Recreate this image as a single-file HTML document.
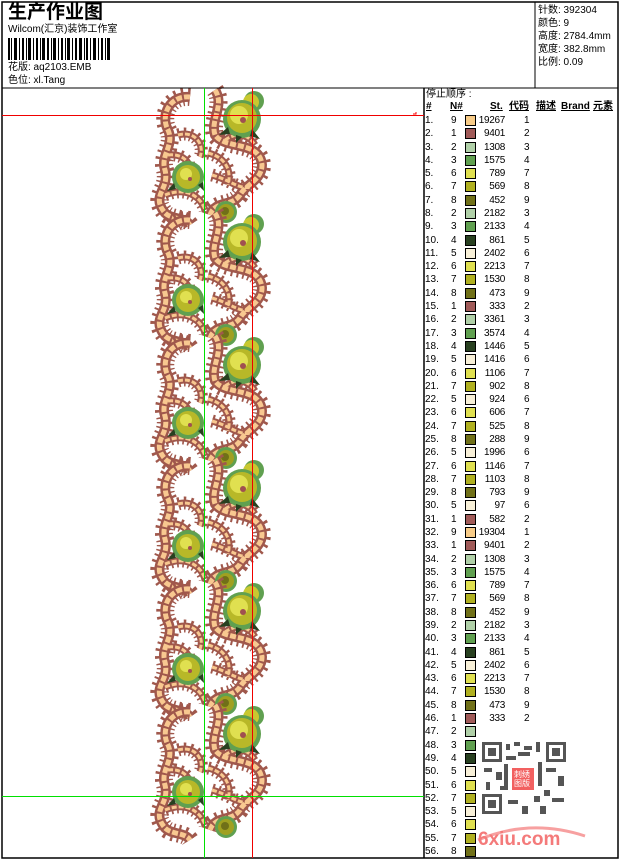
<!DOCTYPE html>
<html><head><meta charset="utf-8"><style>
body{margin:0;background:#fff;}
#p{position:relative;width:620px;height:860px;overflow:hidden;font-family:"Liberation Sans","WenQuanYi Zen Hei","Noto Sans CJK SC",sans-serif;color:#000;}
.t{position:absolute;white-space:nowrap;font-size:10px;line-height:12px;}
.r{position:absolute;left:425px;height:13px;font-size:10px;line-height:13px;width:190px;}
.r span{position:absolute;}
.r .a{left:0}.r .n{left:26px}.r .s{left:40px;width:9px;height:9px;top:1px;border:1px solid #000}
.r .st{left:50px;width:30px;text-align:right;letter-spacing:-0.3px}.r .c{left:99px}
</style></head><body><div id="p">
<svg width="620" height="860" style="position:absolute;left:0;top:0">
<defs>
<g id="sc" fill="none">
 <path id="p1" d="M190 2 C170 0 160 20 168 35 C175 50 160 60 165 75 C170 95 150 100 165 118 C172 125 185 122 190 130"/>
 <path id="p2" d="M215 -5 C225 10 210 25 215 40 C225 55 260 45 262 70 C262 85 245 90 240 100 C232 112 215 105 210 120"/>
 <path id="p3" d="M178 40 C195 35 205 50 200 62 M165 100 C185 92 200 100 205 115 M168 60 C185 58 192 70 190 80"/>
 <path id="p4" d="M208 58 C225 62 232 75 228 90 M212 80 C230 85 240 95 250 92 M225 45 C240 35 250 42 255 50"/>
</g>
<g id="tile">
 <g fill="none" stroke="#a0584c">
  <use href="#p1" stroke-width="18" stroke-dasharray="2 4"/><use href="#p2" stroke-width="18" stroke-dasharray="2 4"/>
  <use href="#p3" stroke-width="13" stroke-dasharray="2 4"/><use href="#p4" stroke-width="13" stroke-dasharray="2 4"/>
  <use href="#p1" stroke-width="10"/><use href="#p2" stroke-width="10"/>
  <use href="#p3" stroke-width="7"/><use href="#p4" stroke-width="7"/>
 </g>
 <g fill="none" stroke="#f8c890">
  <use href="#p1" stroke-width="5" stroke-dasharray="6 2"/><use href="#p2" stroke-width="5" stroke-dasharray="6 2"/>
  <use href="#p3" stroke-width="3" stroke-dasharray="5 2"/><use href="#p4" stroke-width="3" stroke-dasharray="5 2"/>
 </g>
 <circle cx="254" cy="6" r="10" fill="#60a050"/><circle cx="251" cy="7" r="8" fill="#c8c830"/>
 <circle cx="242" cy="24" r="19" fill="#60a050"/><circle cx="242" cy="23" r="15" fill="#b8b828"/><circle cx="239" cy="20" r="9" fill="#e0e050"/><circle cx="243" cy="25" r="3" fill="#a05050"/>
 <path d="M228 32 l-9 8 11 -1z M252 34 l8 10 -10 -3z M236 40 l0 8 6 -6z" fill="#284020"/>
 <circle cx="188" cy="82" r="16" fill="#60a050"/><circle cx="188" cy="82" r="12" fill="#b8b828"/><circle cx="186" cy="79" r="6" fill="#e0e050"/><circle cx="190" cy="84" r="2" fill="#a05050"/>
 <path d="M174 88 l-7 8 9 -2z M198 90 l6 6 -1 -9z" fill="#284020"/>
 <circle cx="226" cy="117" r="11" fill="#60a050"/><circle cx="226" cy="117" r="8" fill="#a0a020"/><circle cx="225" cy="116" r="4" fill="#707018"/>
</g>
</defs>
<g>
<use href="#tile" y="95"/><use href="#tile" y="218"/><use href="#tile" y="341"/><use href="#tile" y="464"/><use href="#tile" y="587"/><use href="#tile" y="710"/>
</g>
<rect x="2" y="2" width="616" height="856" fill="none" stroke="#000" stroke-width="1.5"/>
<line x1="2" y1="88" x2="618" y2="88" stroke="#000"/>
<line x1="535" y1="2" x2="535" y2="88" stroke="#000"/>
<line x1="424" y1="88" x2="424" y2="858" stroke="#000" stroke-width="1.5"/>
<line x1="204.5" y1="88" x2="204.5" y2="858" stroke="#00e000"/>
<line x1="252.5" y1="88" x2="252.5" y2="858" stroke="#f00000"/>
<line x1="2" y1="115.5" x2="424" y2="115.5" stroke="#f00000"/>
<line x1="2" y1="796.5" x2="424" y2="796.5" stroke="#00e000"/>
<path d="M413 114 h3 v-2" stroke="#f00" fill="none"/>
<g fill="#000">
<rect x="8" y="38" width="2" height="22"/><rect x="11" y="38" width="1" height="22"/><rect x="14" y="38" width="3" height="22"/><rect x="19" y="38" width="1" height="22"/><rect x="22" y="38" width="2" height="22"/><rect x="26" y="38" width="1" height="22"/><rect x="28" y="38" width="3" height="22"/><rect x="33" y="38" width="1" height="22"/><rect x="36" y="38" width="2" height="22"/><rect x="40" y="38" width="1" height="22"/><rect x="42" y="38" width="3" height="22"/><rect x="47" y="38" width="2" height="22"/><rect x="51" y="38" width="1" height="22"/><rect x="53" y="38" width="3" height="22"/><rect x="58" y="38" width="1" height="22"/><rect x="61" y="38" width="2" height="22"/><rect x="65" y="38" width="1" height="22"/><rect x="67" y="38" width="3" height="22"/><rect x="72" y="38" width="1" height="22"/><rect x="75" y="38" width="2" height="22"/><rect x="79" y="38" width="3" height="22"/><rect x="84" y="38" width="1" height="22"/><rect x="86" y="38" width="2" height="22"/><rect x="90" y="38" width="1" height="22"/><rect x="93" y="38" width="3" height="22"/><rect x="98" y="38" width="1" height="22"/><rect x="101" y="38" width="2" height="22"/><rect x="105" y="38" width="1" height="22"/><rect x="107" y="38" width="3" height="22"/>
</g>
<rect x="480" y="740" width="86" height="75" fill="#fff"/>
<g fill="#555">
<rect x="482" y="742" width="20" height="20"/><rect x="546" y="742" width="20" height="20"/><rect x="482" y="794" width="20" height="20"/>
<rect x="506" y="744" width="4" height="6"/><rect x="514" y="742" width="6" height="4"/><rect x="524" y="746" width="8" height="4"/><rect x="536" y="742" width="4" height="10"/>
<rect x="484" y="768" width="8" height="4"/><rect x="496" y="772" width="6" height="8"/><rect x="486" y="782" width="4" height="8"/><rect x="506" y="756" width="10" height="4"/>
<rect x="546" y="768" width="10" height="4"/><rect x="558" y="776" width="6" height="10"/><rect x="544" y="790" width="6" height="6"/><rect x="552" y="798" width="12" height="4"/>
<rect x="508" y="800" width="10" height="4"/><rect x="522" y="806" width="6" height="8"/><rect x="534" y="796" width="6" height="6"/><rect x="540" y="806" width="6" height="8"/>
<rect x="504" y="764" width="4" height="26"/><rect x="538" y="762" width="4" height="24"/><rect x="518" y="752" width="12" height="4"/><rect x="500" y="786" width="8" height="4"/>
</g>
<g fill="#fff"><rect x="485" y="745" width="14" height="14"/><rect x="549" y="745" width="14" height="14"/><rect x="485" y="797" width="14" height="14"/></g>
<g fill="#555"><rect x="488" y="748" width="8" height="8"/><rect x="552" y="748" width="8" height="8"/><rect x="488" y="800" width="8" height="8"/></g>
<rect x="512" y="768" width="22" height="22" fill="#f26060"/>
<path d="M478 840 Q530 818 585 836" stroke="#f7a0a0" stroke-width="3" fill="none"/>
</svg>
<div class="t" style="left:8px;top:2px;font-size:19px;line-height:22px;font-weight:bold">生产作业图</div>
<div class="t" style="left:8px;top:24px">Wilcom(汇京)装饰工作室</div>
<div class="t" style="left:8px;top:62px">花版: aq2103.EMB</div>
<div class="t" style="left:8px;top:75px">色位: xl.Tang</div>
<div class="t" style="left:538px;top:5px">针数: 392304</div>
<div class="t" style="left:538px;top:18px">颜色: 9</div>
<div class="t" style="left:538px;top:31px">高度: 2784.4mm</div>
<div class="t" style="left:538px;top:44px">宽度: 382.8mm</div>
<div class="t" style="left:538px;top:57px">比例: 0.09</div>
<div class="t" style="left:426px;top:89px">停止顺序 :</div>
<div class="t" style="left:426px;top:101px;font-weight:bold;text-decoration:underline">#</div>
<div class="t" style="left:450px;top:101px;font-weight:bold;text-decoration:underline">N#</div>
<div class="t" style="left:490px;top:101px;font-weight:bold;text-decoration:underline">St.</div>
<div class="t" style="left:509px;top:101px;font-weight:bold;text-decoration:underline">代码</div>
<div class="t" style="left:536px;top:101px;font-weight:bold;text-decoration:underline">描述</div>
<div class="t" style="left:561px;top:101px;font-weight:bold;text-decoration:underline">Brand</div>
<div class="t" style="left:593px;top:101px;font-weight:bold;text-decoration:underline">元素</div>
<div id="rows"></div>
<div class="t" style="left:478px;top:829px;font-size:19px;line-height:22px;font-weight:bold;color:#f47a7a">6xiu.com</div>
<div class="t" style="left:514px;top:770px;font-size:8px;line-height:9px;color:#fff;width:18px;white-space:normal">刺绣图版</div>
</div>
<script>
var d=[[9,19267],[1,9401],[2,1308],[3,1575],[6,789],[7,569],[8,452],[2,2182],[3,2133],[4,861],[5,2402],[6,2213],[7,1530],[8,473],[1,333],[2,3361],[3,3574],[4,1446],[5,1416],[6,1106],[7,902],[5,924],[6,606],[7,525],[8,288],[5,1996],[6,1146],[7,1103],[8,793],[5,97],[1,582],[9,19304],[1,9401],[2,1308],[3,1575],[6,789],[7,569],[8,452],[2,2182],[3,2133],[4,861],[5,2402],[6,2213],[7,1530],[8,473],[1,333],[2,''],[3,''],[4,''],[5,''],[6,''],[7,''],[5,''],[6,''],[7,''],[8,'']];
var col={9:'#f8cc88',1:'#a05a58',2:'#b0d0a8',3:'#60a050',4:'#284020',5:'#f8f0d8',6:'#e0e050',7:'#b0b020',8:'#707018'};
var code={9:1,1:2,2:3,3:4,4:5,5:6,6:7,7:8,8:9};
var h='';
for(var i=0;i<d.length;i++){var y=114+i*13.29;var n=d[i][0];var hide=i>=46;
h+='<div class="r" style="top:'+y+'px"><span class="a">'+(i+1)+'.</span><span class="n">'+n+'</span><span class="s" style="background:'+col[n]+'"></span><span class="st">'+d[i][1]+'</span><span class="c">'+(hide?'':code[n])+'</span></div>';}
document.getElementById('rows').innerHTML=h;
</script>
</body></html>
